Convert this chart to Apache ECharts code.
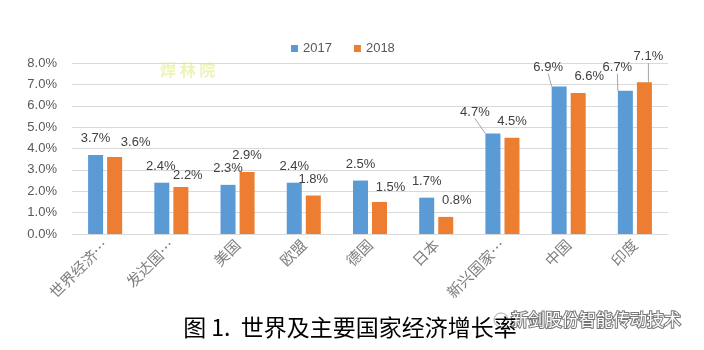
<!DOCTYPE html>
<html>
<head>
<meta charset="utf-8">
<script src="https://cdn.jsdelivr.net/npm/echarts@6/dist/echarts.min.js"></script>
<style>html,body{margin:0;padding:0;background:#fff;}#c{width:704px;height:350px;}</style>
</head>
<body>
<div id="c"></div>
<script>
const categories = ["世界经济…","发达国…","美国","欧盟","德国","日本","新兴国家…","中国","印度"];
const values2017 = [3.7, 2.4, 2.3, 2.4, 2.5, 1.7, 4.7, 6.9, 6.7];
const values2018 = [3.6, 2.2, 2.9, 1.8, 1.5, 0.8, 4.5, 6.6, 7.1];
const seriesNames = ["2017", "2018"];
const yTicks = [0, 1, 2, 3, 4, 5, 6, 7, 8];

// label nudges (layout only)
const nudge = [
  [[0,0],[-1,0],[0,0],[0,0],[0,0],[0,0],[-18,-5],[-11,-3],[-8,-7]],
  [[21,2],[7,5],[0,0],[0,0],[11,2],[11,0],[0,0],[11,0],[4,-9]]
];
const leader = [[6,7,8],[8]];

const chart = echarts.init(document.getElementById('c'), null, {renderer:'canvas'});
const txt = '#595959';
const font = "'Liberation Sans', 'Noto Sans CJK SC', sans-serif";

function mkSeries(idx, vals, color){
  return {
    name: seriesNames[idx],
    type: 'bar',
    barWidth: 15,
    barGap: '27%',
    itemStyle: {color: color},
    data: vals.map((v, i) => ({
      value: v,
      labelLine: {show: leader[idx].indexOf(i) >= 0}
    })),
    label: {
      show: true, position: 'top', distance: 10,
      color: '#404040', fontSize: 13, fontFamily: font,
      formatter: p => p.value.toFixed(1) + '%'
    },
    labelLine: {show: false, lineStyle: {color: '#A6A6A6', width: 1}},
    labelLayout: p => {
      const n = nudge[idx][p.dataIndex];
      return {dx: n[0], dy: n[1]};
    }
  };
}

chart.setOption({
  animation: false,
  backgroundColor: '#fff',
  textStyle: {fontFamily: font},
  title: {
    text: '图 1.  世界及主要国家经济增长率',
    left: 345, top: 311, textAlign: 'center',
    textStyle: {fontSize: 23, fontWeight: 'normal', color: '#000', fontFamily: "'Noto Sans CJK SC', serif"}
  },
  legend: {
    data: seriesNames,
    top: 37, left: 286,
    itemWidth: 7, itemHeight: 7, itemGap: 22,
    icon: 'rect',
    textStyle: {color: txt, fontSize: 13, fontFamily: font}
  },
  grid: {left: 72, right: 36, top: 63, bottom: 116},
  xAxis: {
    type: 'category',
    data: categories,
    axisLine: {show: true, lineStyle: {color: '#D9D9D9'}},
    axisTick: {show: false},
    axisLabel: {rotate: 45, color: '#7F7F7F', fontSize: 15, margin: 8, interval: 0,
      fontFamily: "'Noto Sans CJK SC', sans-serif"}
  },
  yAxis: {
    type: 'value',
    min: yTicks[0], max: yTicks[yTicks.length-1], interval: 1,
    axisLine: {show: false},
    axisTick: {show: false},
    splitLine: {lineStyle: {color: '#D9D9D9'}},
    axisLabel: {color: txt, fontSize: 13, margin: 15, fontFamily: font,
      formatter: v => v.toFixed(1) + '%'}
  },
  series: [mkSeries(0, values2017, '#5B9BD5'), mkSeries(1, values2018, '#ED7D31')],
  graphic: [
    {type: 'text', left: 160, top: 62, style: {text: '焊 林 院', fill: '#EEF3B8', fontSize: 16, fontWeight: 'bold', fontFamily: "'Noto Sans CJK SC', sans-serif"}},
    {type: 'text', left: 510, top: 310, style: {text: '新剑股份智能传动技术', fill: '#ffffff', stroke: '#777777', lineWidth: 2, fontSize: 17, fontFamily: "'Noto Sans CJK SC', sans-serif"}},
    {type: 'circle', shape: {cx: 501, cy: 320, r: 7}, style: {fill: 'none', stroke: '#aaaaaa', lineWidth: 1}}
  ]
});
</script>
</body>
</html>
